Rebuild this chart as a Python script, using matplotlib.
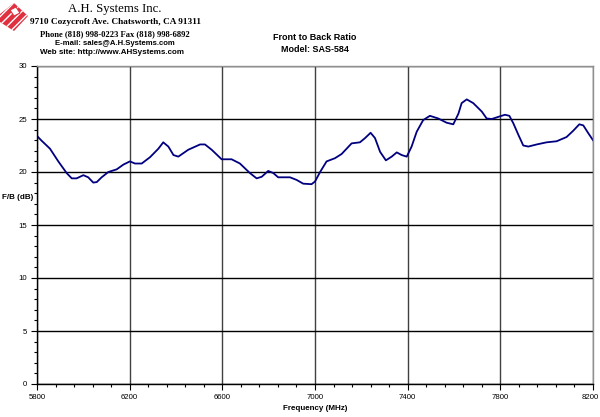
import numpy as np
import matplotlib.pyplot as plt
import matplotlib.transforms as mtransforms
from matplotlib.patches import Polygon

# Front to back ratio data
freq = [5800, 5820, 5856, 5892, 5928, 5950, 5971, 6000, 6021, 6043, 6058, 6079,
        6108, 6144, 6173, 6201, 6223, 6252, 6288, 6324, 6345, 6367, 6389, 6410,
        6453, 6504, 6525, 6554, 6597, 6640, 6676, 6719, 6748, 6770, 6798, 6820,
        6841, 6892, 6921, 6949, 6985, 7000, 7022, 7050, 7086, 7115, 7158, 7194,
        7216, 7240, 7259, 7281, 7306, 7331, 7353, 7374, 7396, 7417, 7439, 7467,
        7496, 7532, 7568, 7597, 7619, 7633, 7655, 7683, 7720, 7741, 7763, 7791,
        7820, 7839, 7856, 7878, 7899, 7921, 7957, 8000, 8043, 8086, 8115, 8141,
        8158, 8180, 8200]
fb = [23.4, 22.95, 22.2, 21.0, 19.9, 19.4, 19.4, 19.7, 19.5, 19.0, 19.05, 19.5,
      20.0, 20.25, 20.7, 21.0, 20.8, 20.8, 21.4, 22.2, 22.8, 22.4, 21.6, 21.45,
      22.1, 22.6, 22.6, 22.1, 21.2, 21.2, 20.8, 19.9, 19.4, 19.55, 20.1, 19.9,
      19.5, 19.5, 19.25, 18.9, 18.85, 19.1, 20.0, 21.0, 21.3, 21.7, 22.7, 22.8,
      23.2, 23.7, 23.2, 21.9, 21.1, 21.45, 21.85, 21.6, 21.45, 22.4, 23.8, 24.9,
      25.3, 25.05, 24.65, 24.5, 25.5, 26.5, 26.85, 26.5, 25.7, 25.05, 25.0, 25.2,
      25.4, 25.3, 24.6, 23.5, 22.5, 22.4, 22.6, 22.8, 22.9, 23.3, 23.9, 24.5,
      24.4, 23.65, 23.0]

fig = plt.figure(figsize=(6, 4.17), dpi=100)
ax = fig.add_axes([37/600, 33/417, 556/600, 318/417])

ax.plot(freq, fb, color='#000080', linewidth=1.3, solid_joinstyle='round')

ax.set_xlim(5800, 8200)
ax.set_ylim(0, 30)
ax.set_xticks(np.arange(5800, 8201, 400))
ax.set_xticks(np.arange(5800, 8201, 80), minor=True)
ax.set_yticks(np.arange(0, 31, 5))
ax.set_yticks(np.arange(0, 31, 1), minor=True)

ax.grid(axis='y', which='major', color='black', linewidth=1.0)
ax.grid(axis='x', which='major', color='#404040', linewidth=1.0)
ax.set_axisbelow(True)

for s in ['left', 'bottom']:
    ax.spines[s].set_color('black')
    ax.spines[s].set_linewidth(1.0)
for s in ['top', 'right']:
    ax.spines[s].set_color('#909090')
    ax.spines[s].set_linewidth(1.0)

ax.tick_params(which='major', direction='out', length=4, width=0.8,
               labelsize=5.6, pad=3)
ax.tick_params(which='minor', direction='out', length=2.5, width=0.8)
for lab in ax.get_xticklabels() + ax.get_yticklabels():
    lab.set_family('Liberation Sans')

# keep the last x label inside the picture
last = ax.get_xticklabels()[-1]
last.set_transform(last.get_transform() +
                   mtransforms.ScaledTranslation(-3/100, 0, fig.dpi_scale_trans))

fig.text(315/600, 1 - 408/417, 'Frequency (MHz)', ha='center', va='center',
         fontsize=5.8, fontweight='bold', family='Liberation Sans')
fig.text(2/600, 1 - 198/417, 'F/B (dB)', ha='left', va='center',
         fontsize=5.8, fontweight='bold', family='Liberation Sans')

fig.text(315/600, 1 - 38/417, 'Front to Back Ratio', ha='center', va='center',
         fontsize=6.5, fontweight='bold', family='Liberation Sans')
fig.text(315/600, 1 - 50/417, 'Model: SAS-584', ha='center', va='center',
         fontsize=6.5, fontweight='bold', family='Liberation Sans')

# company header
fig.text(115/600, 1 - 9/417, 'A.H. Systems Inc.', ha='center', va='center',
         fontsize=9.2, family='Liberation Serif')
fig.text(115/600, 1 - 22.5/417, '9710 Cozycroft Ave. Chatsworth, CA 91311',
         ha='center', va='center', fontsize=6.7, fontweight='bold',
         family='Liberation Serif')
fig.text(115/600, 1 - 34/417, 'Phone (818) 998-0223 Fax (818) 998-6892',
         ha='center', va='center', fontsize=6.1, fontweight='bold',
         family='Liberation Serif')
fig.text(115/600, 1 - 43.5/417, 'E-mail: sales@A.H.Systems.com',
         ha='center', va='center', fontsize=5.6, fontweight='bold',
         family='Liberation Sans')
fig.text(112/600, 1 - 53/417, 'Web site: http://www.AHSystems.com',
         ha='center', va='center', fontsize=5.8, fontweight='bold',
         family='Liberation Sans')

# logo
logo_px = [(0, 14), (14, 3), (28, 16), (14, 31), (0, 22)]
logo = Polygon([(x/600, 1 - y/417) for x, y in logo_px], closed=True,
               transform=fig.transFigure, facecolor='#e03040',
               edgecolor='white', hatch='////', linewidth=0)
fig.patches.append(logo)
box_px = [(10, 10), (16, 7), (20, 13), (14, 16)]
box = Polygon([(x/600, 1 - y/417) for x, y in box_px], closed=True,
              transform=fig.transFigure, facecolor='white',
              edgecolor='#e03040', linewidth=0.8)
fig.patches.append(box)

fig.savefig('out.png', dpi=100)
